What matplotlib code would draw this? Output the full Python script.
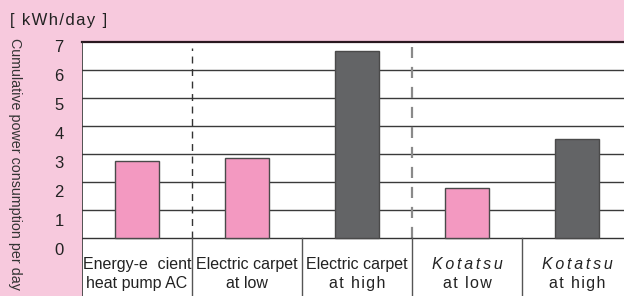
import matplotlib
matplotlib.use("Agg")
import matplotlib.pyplot as plt
from matplotlib import font_manager

categories_line1 = ["Energy-e\u2009\u2009\u2009cient", "Electric carpet", "Electric carpet", "Kotatsu", "Kotatsu"]
categories_line2 = ["heat pump AC", "at low", "at high", "at low", "at high"]
line1_italic = [False, False, False, True, True]
values = [2.78, 2.86, 6.7, 1.81, 3.55]
bar_colors = ["#F399C1", "#F399C1", "#636466", "#F399C1", "#636466"]
yticks = [0, 1, 2, 3, 4, 5, 6, 7]
unit_label = "[ kWh/day ]"
ylabel = "Cumulative power consumption per day"

names = {f.name for f in font_manager.fontManager.ttflist}
base = "Liberation Sans" if "Liberation Sans" in names else "DejaVu Sans"
narrow = "Liberation Sans Narrow" if "Liberation Sans Narrow" in names else base
plt.rcParams["font.family"] = [base, "DejaVu Sans"]

HS = "\u200a"


def spaced(s, sep=HS):
    return sep.join(s)


W, H = 624, 296
fig = plt.figure(figsize=(W / 100, H / 100), dpi=100)
fig.patch.set_facecolor("#F7C9DD")

ax_left = 82 / W
ax_top_px = 42.5
ax = fig.add_axes([ax_left, 0, 1 - ax_left, (H - ax_top_px) / H])
ax.set_facecolor("white")
ymin = -(H - 238.3) / 28.0
ax.set_ylim(ymin, 7)
cw = 110.0
ax.set_xlim(-0.5, -0.5 + (W - 82) / cw)
for s in ax.spines.values():
    s.set_visible(False)
ax.set_xticks([])
ax.set_yticks([])

# grid lines
for v in yticks[1:-1]:
    ax.axhline(v, color="#3a3a3a", lw=1.0, zorder=1)
ax.axhline(0, color="#333333", lw=1.0, zorder=3)
ax.axhline(7, color="#2a1820", lw=1.6, zorder=3, clip_on=False)
ax.axvline(-0.5, color="#333333", lw=1.2, zorder=3)

# dashed separators
ax.plot([0.5, 0.5], [0, 6.8], color="#333333", lw=1.0, ls=(0, (5, 4)), zorder=2)
ax.plot([2.5, 2.5], [0, 6.85], color="#8a8a8a", lw=1.6, ls=(0, (5, 4)), zorder=2)

# bars
x = list(range(len(values)))
ax.bar(x, values, width=0.405, color=bar_colors, edgecolor="#4a4a4a", linewidth=1.0, zorder=4)

# category boxes
for i in range(len(values)):
    if i > 0:
        ax.plot([i - 0.5, i - 0.5], [ymin, 0], color="#555555", lw=1.0, zorder=3)
    t1 = categories_line1[i]
    t2 = categories_line2[i]
    if line1_italic[i]:
        ax.text(i, -0.95, spaced(t1, HS + HS), ha="center", va="center", fontsize=11.5,
                style="italic", color="#222222", zorder=5)
    else:
        ax.text(i, -0.95, t1, ha="center", va="center", fontsize=11.5,
                color="#222222", zorder=5, family=[narrow, "DejaVu Sans"])
    if i == 0:
        ax.text(i, -1.6, t2, ha="center", va="center", fontsize=11.5,
                color="#222222", zorder=5, family=[narrow, "DejaVu Sans"])
    else:
        txt = t2 if i == 1 else spaced(t2)
        ax.text(i, -1.6, txt, ha="center", va="center", fontsize=11.5,
                color="#222222", zorder=5)

# y tick labels
for v in yticks:
    ax.text(-0.5 - (82 - 59) / cw, v - 0.17 - 0.04 * (7 - v), str(v), ha="center", va="center",
            fontsize=12, color="#222222", clip_on=False)

fig.text(10 / W, 1 - 20 / H, spaced(unit_label), ha="left", va="center", fontsize=12, color="#222222")
fig.text(15 / W, 1 - 38 / H, ylabel, ha="center", va="top", rotation=-90, fontsize=10.3,
         color="#333333", family=[narrow, "DejaVu Sans"])

fig.savefig("out.png", dpi=100, facecolor=fig.get_facecolor())
